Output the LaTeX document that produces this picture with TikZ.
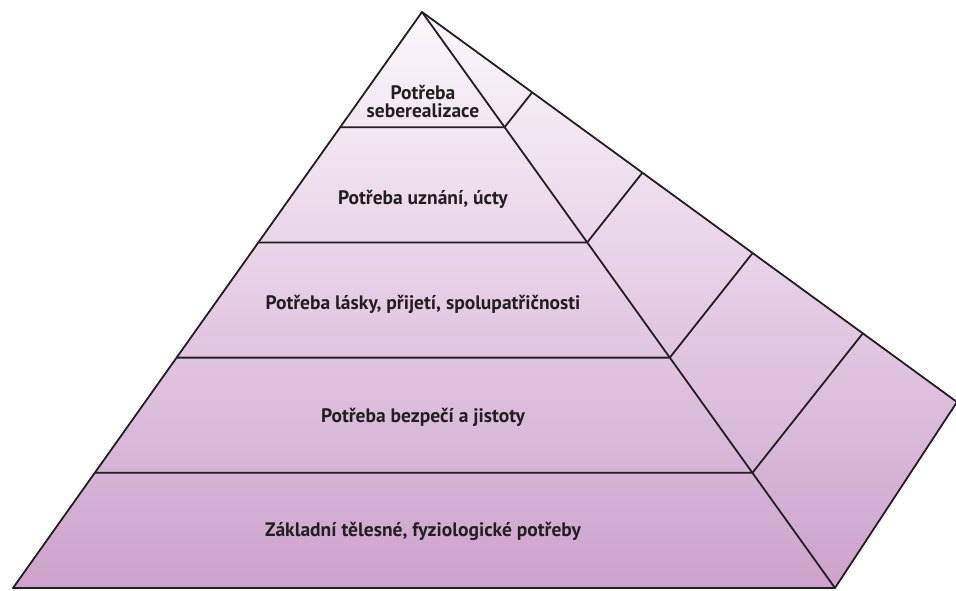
\documentclass[tikz,border=0pt]{standalone}
\usepackage{fontspec}
\setsansfont{PT Sans}
\usetikzlibrary{calc}
\definecolor{TopLilac}{HTML}{FBF8FB}
\definecolor{BottomLilac}{HTML}{CDA2CC}
\definecolor{Ink}{HTML}{231F20}

\begin{document}
\begin{tikzpicture}
    [font=\sffamily\bfseries, x=1pt, y=-1pt,
     line width=1.8pt, line join=round,
     edge/.style={draw=Ink},
     tier/.style={text=Ink, align=center,
                  font=\sffamily\bfseries\fontsize{19.5}{18}\selectfont},
    ]
    \useasboundingbox (0, 0) rectangle (956, 590);

    \coordinate (T) at (422, 12);
    \coordinate (BL) at (13, 588);
    \coordinate (BR) at (835, 588);
    \coordinate (R) at (957, 402);

    % Shading of front and side
    \shade[top color=TopLilac, bottom color=BottomLilac]
        (T) -- (BL) -- (BR) -- (R) -- cycle;

    % Outline
    \draw[edge] (T) -- (BL) -- (BR) -- (R) -- cycle;
    \draw[edge] (T) -- (BR);

    % Tiers and side segments
    \foreach \k in {1,...,4} {
        \coordinate (L\k) at ($ (T)!\k/5!(BL) $);
        \coordinate (M\k) at ($ (T)!\k/5!(BR) $);
        \coordinate (S\k) at ($ (T)!0.206*\k!(R) $);
        \draw[edge] (L\k) -- (M\k) -- (S\k);
    }

    % Labels
    \foreach \nm / \ty / \txt in
             {self/101/{Potřeba\\seberealizace},
              esteem/199/{Potřeba uznání, úcty},
              love/304/{Potřeba lásky, přijetí, spolupatřičnosti},
              safety/417/{Potřeba bezpečí a jistoty},
              body/531/{Základní tělesné, fyziologické potřeby}} {
        \node[tier] (\nm) at (423, \ty) {\txt};
    }
\end{tikzpicture}
\end{document}
